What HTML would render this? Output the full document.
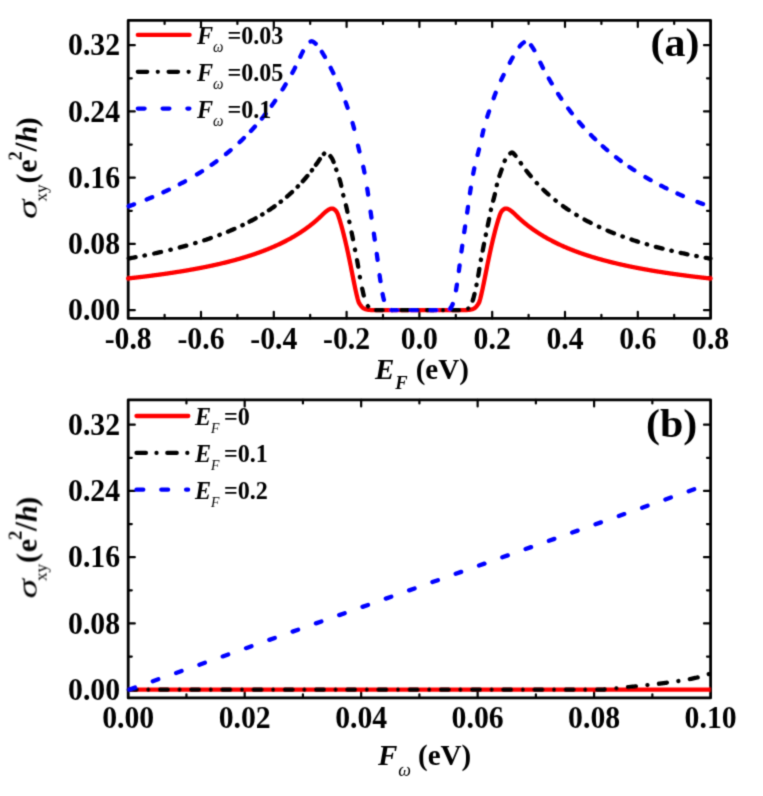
<!DOCTYPE html><html><head><meta charset="utf-8"><style>html,body{margin:0;padding:0;background:#fff;overflow:hidden}svg{display:block;will-change:transform}text{font-family:"Liberation Serif",serif;font-weight:bold;fill:#000}</style></head><body><svg width="763" height="796" viewBox="0 0 763 796"><defs><filter id="bl" x="0" y="0" width="763" height="796" filterUnits="userSpaceOnUse"><feConvolveMatrix order="3" kernelMatrix="0.02768 0.11101 0.02768 0.11101 0.44521 0.11101 0.02768 0.11101 0.02768" edgeMode="duplicate"/></filter></defs><rect width="763" height="796" fill="#fff"/><g filter="url(#bl)"><path d="M201.00 318.40 V311.80 M201.00 20.30 V26.90 M273.80 318.40 V311.80 M273.80 20.30 V26.90 M346.60 318.40 V311.80 M346.60 20.30 V26.90 M419.40 318.40 V311.80 M419.40 20.30 V26.90 M492.20 318.40 V311.80 M492.20 20.30 V26.90 M565.00 318.40 V311.80 M565.00 20.30 V26.90 M637.80 318.40 V311.80 M637.80 20.30 V26.90 M164.60 318.40 V314.80 M164.60 20.30 V23.90 M237.40 318.40 V314.80 M237.40 20.30 V23.90 M310.20 318.40 V314.80 M310.20 20.30 V23.90 M383.00 318.40 V314.80 M383.00 20.30 V23.90 M455.80 318.40 V314.80 M455.80 20.30 V23.90 M528.60 318.40 V314.80 M528.60 20.30 V23.90 M601.40 318.40 V314.80 M601.40 20.30 V23.90 M674.20 318.40 V314.80 M674.20 20.30 V23.90 M128.20 310.20 H134.80 M710.60 310.20 H704.00 M128.20 243.95 H134.80 M710.60 243.95 H704.00 M128.20 177.70 H134.80 M710.60 177.70 H704.00 M128.20 111.46 H134.80 M710.60 111.46 H704.00 M128.20 45.21 H134.80 M710.60 45.21 H704.00 M128.20 277.08 H131.80 M710.60 277.08 H707.00 M128.20 210.83 H131.80 M710.60 210.83 H707.00 M128.20 144.58 H131.80 M710.60 144.58 H707.00 M128.20 78.33 H131.80 M710.60 78.33 H707.00" stroke="#000" stroke-width="2.2" stroke-linecap="round" fill="none"/><rect x="128.20" y="20.30" width="582.40" height="298.10" fill="none" stroke="#000" stroke-width="2.8" stroke-linejoin="round"/><path d="M244.68 697.90 V691.30 M244.68 399.80 V406.40 M361.16 697.90 V691.30 M361.16 399.80 V406.40 M477.64 697.90 V691.30 M477.64 399.80 V406.40 M594.12 697.90 V691.30 M594.12 399.80 V406.40 M186.44 697.90 V694.30 M186.44 399.80 V403.40 M302.92 697.90 V694.30 M302.92 399.80 V403.40 M419.40 697.90 V694.30 M419.40 399.80 V403.40 M535.88 697.90 V694.30 M535.88 399.80 V403.40 M652.36 697.90 V694.30 M652.36 399.80 V403.40 M128.20 689.70 H134.80 M710.60 689.70 H704.00 M128.20 623.45 H134.80 M710.60 623.45 H704.00 M128.20 557.20 H134.80 M710.60 557.20 H704.00 M128.20 490.96 H134.80 M710.60 490.96 H704.00 M128.20 424.71 H134.80 M710.60 424.71 H704.00 M128.20 656.58 H131.80 M710.60 656.58 H707.00 M128.20 590.33 H131.80 M710.60 590.33 H707.00 M128.20 524.08 H131.80 M710.60 524.08 H707.00 M128.20 457.83 H131.80 M710.60 457.83 H707.00" stroke="#000" stroke-width="2.2" stroke-linecap="round" fill="none"/><rect x="128.20" y="399.80" width="582.40" height="298.10" fill="none" stroke="#000" stroke-width="2.8" stroke-linejoin="round"/><g fill="none" stroke-width="4.3" stroke-linejoin="round"><path d="M128.20 278.42 L128.70 278.37 L129.20 278.31 L129.70 278.26 L130.20 278.20 L130.70 278.15 L131.20 278.09 L131.70 278.04 L132.20 277.98 L132.70 277.92 L133.20 277.87 L133.70 277.81 L134.20 277.75 L134.70 277.70 L135.20 277.64 L135.70 277.58 L136.20 277.52 L136.70 277.47 L137.20 277.41 L137.70 277.35 L138.20 277.29 L138.70 277.23 L139.20 277.17 L139.70 277.12 L140.20 277.06 L140.70 277.00 L141.20 276.94 L141.70 276.88 L142.20 276.82 L142.70 276.76 L143.20 276.70 L143.70 276.64 L144.20 276.57 L144.70 276.51 L145.20 276.45 L145.70 276.39 L146.20 276.33 L146.70 276.27 L147.20 276.20 L147.70 276.14 L148.20 276.08 L148.70 276.02 L149.20 275.95 L149.70 275.89 L150.20 275.82 L150.70 275.76 L151.20 275.70 L151.70 275.63 L152.20 275.57 L152.70 275.50 L153.20 275.44 L153.70 275.37 L154.20 275.31 L154.70 275.24 L155.20 275.17 L155.70 275.11 L156.20 275.04 L156.70 274.97 L157.20 274.91 L157.70 274.84 L158.20 274.77 L158.70 274.70 L159.20 274.64 L159.70 274.57 L160.20 274.50 L160.70 274.43 L161.20 274.36 L161.70 274.29 L162.20 274.22 L162.70 274.15 L163.20 274.08 L163.70 274.01 L164.20 273.94 L164.70 273.87 L165.20 273.80 L165.70 273.72 L166.20 273.65 L166.70 273.58 L167.20 273.51 L167.70 273.43 L168.20 273.36 L168.70 273.29 L169.20 273.21 L169.70 273.14 L170.20 273.07 L170.70 272.99 L171.20 272.92 L171.70 272.84 L172.20 272.77 L172.70 272.69 L173.20 272.61 L173.70 272.54 L174.20 272.46 L174.70 272.38 L175.20 272.31 L175.70 272.23 L176.20 272.15 L176.70 272.07 L177.20 271.99 L177.70 271.91 L178.20 271.83 L178.70 271.75 L179.20 271.67 L179.70 271.59 L180.20 271.51 L180.70 271.43 L181.20 271.35 L181.70 271.27 L182.20 271.19 L182.70 271.10 L183.20 271.02 L183.70 270.94 L184.20 270.86 L184.70 270.77 L185.20 270.69 L185.70 270.60 L186.20 270.52 L186.70 270.43 L187.20 270.35 L187.70 270.26 L188.20 270.17 L188.70 270.09 L189.20 270.00 L189.70 269.91 L190.20 269.83 L190.70 269.74 L191.20 269.65 L191.70 269.56 L192.20 269.47 L192.70 269.38 L193.20 269.29 L193.70 269.20 L194.20 269.11 L194.70 269.02 L195.20 268.93 L195.70 268.83 L196.20 268.74 L196.70 268.65 L197.20 268.55 L197.70 268.46 L198.20 268.37 L198.70 268.27 L199.20 268.18 L199.70 268.08 L200.20 267.98 L200.70 267.89 L201.20 267.79 L201.70 267.69 L202.20 267.59 L202.70 267.50 L203.20 267.40 L203.70 267.30 L204.20 267.20 L204.70 267.10 L205.20 267.00 L205.70 266.90 L206.20 266.80 L206.70 266.69 L207.20 266.59 L207.70 266.49 L208.20 266.38 L208.70 266.28 L209.20 266.18 L209.70 266.07 L210.20 265.97 L210.70 265.86 L211.20 265.75 L211.70 265.65 L212.20 265.54 L212.70 265.43 L213.20 265.32 L213.70 265.21 L214.20 265.10 L214.70 264.99 L215.20 264.88 L215.70 264.77 L216.20 264.66 L216.70 264.55 L217.20 264.43 L217.70 264.32 L218.20 264.21 L218.70 264.09 L219.20 263.98 L219.70 263.86 L220.20 263.74 L220.70 263.63 L221.20 263.51 L221.70 263.39 L222.20 263.27 L222.70 263.15 L223.20 263.03 L223.70 262.91 L224.20 262.79 L224.70 262.67 L225.20 262.55 L225.70 262.43 L226.20 262.30 L226.70 262.18 L227.20 262.05 L227.70 261.93 L228.20 261.80 L228.70 261.67 L229.20 261.55 L229.70 261.42 L230.20 261.29 L230.70 261.16 L231.20 261.03 L231.70 260.90 L232.20 260.77 L232.70 260.63 L233.20 260.50 L233.70 260.37 L234.20 260.23 L234.70 260.10 L235.20 259.96 L235.70 259.83 L236.20 259.69 L236.70 259.55 L237.20 259.41 L237.70 259.27 L238.20 259.13 L238.70 258.99 L239.20 258.85 L239.70 258.70 L240.20 258.56 L240.70 258.42 L241.20 258.27 L241.70 258.12 L242.20 257.98 L242.70 257.83 L243.20 257.68 L243.70 257.53 L244.20 257.38 L244.70 257.23 L245.20 257.08 L245.70 256.93 L246.20 256.77 L246.70 256.62 L247.20 256.46 L247.70 256.30 L248.20 256.15 L248.70 255.99 L249.20 255.83 L249.70 255.67 L250.20 255.51 L250.70 255.35 L251.20 255.18 L251.70 255.02 L252.20 254.85 L252.70 254.69 L253.20 254.52 L253.70 254.35 L254.20 254.18 L254.70 254.01 L255.20 253.84 L255.70 253.67 L256.20 253.50 L256.70 253.32 L257.20 253.15 L257.70 252.97 L258.20 252.79 L258.70 252.62 L259.20 252.44 L259.70 252.25 L260.20 252.07 L260.70 251.89 L261.20 251.71 L261.70 251.52 L262.20 251.33 L262.70 251.15 L263.20 250.96 L263.70 250.77 L264.20 250.57 L264.70 250.38 L265.20 250.19 L265.70 249.99 L266.20 249.80 L266.70 249.60 L267.20 249.40 L267.70 249.20 L268.20 249.00 L268.70 248.79 L269.20 248.59 L269.70 248.38 L270.20 248.18 L270.70 247.97 L271.20 247.76 L271.70 247.55 L272.20 247.33 L272.70 247.12 L273.20 246.90 L273.70 246.69 L274.20 246.47 L274.70 246.25 L275.20 246.03 L275.70 245.80 L276.20 245.58 L276.70 245.35 L277.20 245.12 L277.70 244.89 L278.20 244.66 L278.70 244.43 L279.20 244.20 L279.70 243.96 L280.20 243.72 L280.70 243.48 L281.20 243.24 L281.70 243.00 L282.20 242.75 L282.70 242.51 L283.20 242.26 L283.70 242.01 L284.20 241.75 L284.70 241.50 L285.20 241.24 L285.70 240.99 L286.20 240.73 L286.70 240.46 L287.20 240.20 L287.70 239.94 L288.20 239.67 L288.70 239.40 L289.20 239.13 L289.70 238.85 L290.20 238.58 L290.70 238.30 L291.20 238.02 L291.70 237.73 L292.20 237.45 L292.70 237.16 L293.20 236.87 L293.70 236.58 L294.20 236.29 L294.70 235.99 L295.20 235.69 L295.70 235.39 L296.20 235.09 L296.70 234.78 L297.20 234.47 L297.70 234.16 L298.20 233.85 L298.70 233.53 L299.20 233.21 L299.70 232.89 L300.20 232.57 L300.70 232.24 L301.20 231.91 L301.70 231.58 L302.20 231.24 L302.70 230.90 L303.20 230.56 L303.70 230.22 L304.20 229.87 L304.70 229.52 L305.20 229.17 L305.70 228.81 L306.20 228.45 L306.70 228.09 L307.20 227.72 L307.70 227.35 L308.20 226.98 L308.70 226.61 L309.20 226.23 L309.70 225.84 L310.20 225.46 L310.70 225.07 L311.20 224.67 L311.70 224.28 L312.20 223.88 L312.70 223.47 L313.20 223.06 L313.70 222.65 L314.20 222.24 L314.70 221.82 L315.20 221.39 L315.70 220.96 L316.20 220.53 L316.70 220.09 L317.20 219.65 L317.70 219.21 L318.20 218.76 L318.70 218.30 L319.20 217.85 L319.70 217.38 L320.20 216.92 L320.70 216.44 L321.20 215.97 L321.70 215.48 L322.20 215.00 L322.70 214.50 L323.20 214.01 L323.70 213.50 L324.20 213.04 L324.70 212.61 L325.20 212.20 L325.70 211.80 L326.20 211.40 L326.70 211.01 L327.20 210.63 L327.70 210.25 L328.20 209.91 L328.70 209.61 L329.20 209.35 L329.70 209.12 L330.20 208.92 L330.70 208.76 L331.20 208.62 L331.70 208.54 L332.20 208.54 L332.70 208.64 L333.20 208.81 L333.70 209.05 L334.20 209.36 L334.70 209.72 L335.20 210.13 L335.70 210.60 L336.20 211.22 L336.70 211.99 L337.20 212.89 L337.70 213.95 L338.20 215.28 L338.70 216.80 L339.20 218.39 L339.70 219.96 L340.20 221.59 L340.70 223.28 L341.20 225.02 L341.70 226.80 L342.20 228.63 L342.70 230.50 L343.20 232.42 L343.70 234.40 L344.20 236.42 L344.70 238.48 L345.20 240.58 L345.70 242.71 L346.20 244.87 L346.70 247.06 L347.20 249.31 L347.70 251.59 L348.20 253.91 L348.70 256.25 L349.20 258.63 L349.70 261.02 L350.20 263.45 L350.70 265.93 L351.20 268.46 L351.70 271.00 L352.20 273.53 L352.70 276.03 L353.20 278.48 L353.70 280.96 L354.20 283.46 L354.70 285.93 L355.20 288.34 L355.70 290.64 L356.20 292.80 L356.70 294.91 L357.20 297.02 L357.70 299.02 L358.20 300.78 L358.70 302.18 L359.20 303.20 L359.70 304.05 L360.20 304.77 L360.70 305.43 L361.20 306.05 L361.70 306.65 L362.20 307.21 L362.70 307.69 L363.20 308.07 L363.70 308.38 L364.20 308.66 L364.70 308.91 L365.20 309.10 L365.70 309.26 L366.20 309.39 L366.70 309.50 L367.20 309.61 L367.70 309.69 L368.20 309.76 L368.70 309.82 L369.20 309.87 L369.70 309.93 L370.20 309.98 L370.70 310.02 L371.20 310.07 L371.70 310.11 L372.20 310.14 L372.70 310.17 L373.20 310.19 L373.70 310.20 L374.20 310.20 L374.70 310.20 L375.20 310.20 L375.70 310.20 L376.20 310.20 L376.70 310.20 L377.20 310.20 L377.70 310.20 L378.20 310.20 L378.70 310.20 L379.20 310.20 L379.70 310.20 L380.20 310.20 L380.70 310.20 L381.20 310.20 L381.70 310.20 L382.20 310.20 L382.70 310.20 L383.20 310.20 L383.70 310.20 L384.20 310.20 L384.70 310.20 L385.20 310.20 L385.70 310.20 L386.20 310.20 L386.70 310.20 L387.20 310.20 L387.70 310.20 L388.20 310.20 L388.70 310.20 L389.20 310.20 L389.70 310.20 L390.20 310.20 L390.70 310.20 L391.20 310.20 L391.70 310.20 L392.20 310.20 L392.70 310.20 L393.20 310.20 L393.70 310.20 L394.20 310.20 L394.70 310.20 L395.20 310.20 L395.70 310.20 L396.20 310.20 L396.70 310.20 L397.20 310.20 L397.70 310.20 L398.20 310.20 L398.70 310.20 L399.20 310.20 L399.70 310.20 L400.20 310.20 L400.70 310.20 L401.20 310.20 L401.70 310.20 L402.20 310.20 L402.70 310.20 L403.20 310.20 L403.70 310.20 L404.20 310.20 L404.70 310.20 L405.20 310.20 L405.70 310.20 L406.20 310.20 L406.70 310.20 L407.20 310.20 L407.70 310.20 L408.20 310.20 L408.70 310.20 L409.20 310.20 L409.70 310.20 L410.20 310.20 L410.70 310.20 L411.20 310.20 L411.70 310.20 L412.20 310.20 L412.70 310.20 L413.20 310.20 L413.70 310.20 L414.20 310.20 L414.70 310.20 L415.20 310.20 L415.70 310.20 L416.20 310.20 L416.70 310.20 L417.20 310.20 L417.70 310.20 L418.20 310.20 L418.70 310.20 L419.20 310.20 L419.20 310.20 L419.70 310.20 L420.20 310.20 L420.70 310.20 L421.20 310.20 L421.70 310.20 L422.20 310.20 L422.70 310.20 L423.20 310.20 L423.70 310.20 L424.20 310.20 L424.70 310.20 L425.20 310.20 L425.70 310.20 L426.20 310.20 L426.70 310.20 L427.20 310.20 L427.70 310.20 L428.20 310.20 L428.70 310.20 L429.20 310.20 L429.70 310.20 L430.20 310.20 L430.70 310.20 L431.20 310.20 L431.70 310.20 L432.20 310.20 L432.70 310.20 L433.20 310.20 L433.70 310.20 L434.20 310.20 L434.70 310.20 L435.20 310.20 L435.70 310.20 L436.20 310.20 L436.70 310.20 L437.20 310.20 L437.70 310.20 L438.20 310.20 L438.70 310.20 L439.20 310.20 L439.70 310.20 L440.20 310.20 L440.70 310.20 L441.20 310.20 L441.70 310.20 L442.20 310.20 L442.70 310.20 L443.20 310.20 L443.70 310.20 L444.20 310.20 L444.70 310.20 L445.20 310.20 L445.70 310.20 L446.20 310.20 L446.70 310.20 L447.20 310.20 L447.70 310.20 L448.20 310.20 L448.70 310.20 L449.20 310.20 L449.70 310.20 L450.20 310.20 L450.70 310.20 L451.20 310.20 L451.70 310.20 L452.20 310.20 L452.70 310.20 L453.20 310.20 L453.70 310.20 L454.20 310.20 L454.70 310.20 L455.20 310.20 L455.70 310.20 L456.20 310.20 L456.70 310.20 L457.20 310.20 L457.70 310.20 L458.20 310.20 L458.70 310.20 L459.20 310.20 L459.70 310.20 L460.20 310.20 L460.70 310.20 L461.20 310.20 L461.70 310.20 L462.20 310.20 L462.70 310.20 L463.20 310.20 L463.70 310.20 L464.20 310.20 L464.70 310.19 L465.20 310.17 L465.70 310.14 L466.20 310.11 L466.70 310.07 L467.20 310.02 L467.70 309.98 L468.20 309.93 L468.70 309.87 L469.20 309.82 L469.70 309.76 L470.20 309.69 L470.70 309.61 L471.20 309.50 L471.70 309.39 L472.20 309.26 L472.70 309.10 L473.20 308.91 L473.70 308.66 L474.20 308.38 L474.70 308.07 L475.20 307.69 L475.70 307.21 L476.20 306.65 L476.70 306.05 L477.20 305.43 L477.70 304.77 L478.20 304.05 L478.70 303.20 L479.20 302.18 L479.70 300.78 L480.20 299.02 L480.70 297.02 L481.20 294.91 L481.70 292.80 L482.20 290.64 L482.70 288.34 L483.20 285.93 L483.70 283.46 L484.20 280.96 L484.70 278.48 L485.20 276.03 L485.70 273.53 L486.20 271.00 L486.70 268.46 L487.20 265.93 L487.70 263.45 L488.20 261.02 L488.70 258.63 L489.20 256.25 L489.70 253.91 L490.20 251.59 L490.70 249.31 L491.20 247.06 L491.70 244.87 L492.20 242.71 L492.70 240.58 L493.20 238.48 L493.70 236.42 L494.20 234.40 L494.70 232.42 L495.20 230.50 L495.70 228.63 L496.20 226.80 L496.70 225.02 L497.20 223.28 L497.70 221.59 L498.20 219.96 L498.70 218.39 L499.20 216.80 L499.70 215.28 L500.20 213.95 L500.70 212.89 L501.20 211.99 L501.70 211.22 L502.20 210.60 L502.70 210.13 L503.20 209.72 L503.70 209.36 L504.20 209.05 L504.70 208.81 L505.20 208.64 L505.70 208.54 L506.20 208.54 L506.70 208.62 L507.20 208.76 L507.70 208.92 L508.20 209.12 L508.70 209.35 L509.20 209.61 L509.70 209.91 L510.20 210.25 L510.70 210.63 L511.20 211.01 L511.70 211.40 L512.20 211.80 L512.70 212.20 L513.20 212.61 L513.70 213.04 L514.20 213.50 L514.70 214.01 L515.20 214.50 L515.70 215.00 L516.20 215.48 L516.70 215.97 L517.20 216.44 L517.70 216.92 L518.20 217.38 L518.70 217.85 L519.20 218.30 L519.70 218.76 L520.20 219.21 L520.70 219.65 L521.20 220.09 L521.70 220.53 L522.20 220.96 L522.70 221.39 L523.20 221.82 L523.70 222.24 L524.20 222.65 L524.70 223.06 L525.20 223.47 L525.70 223.88 L526.20 224.28 L526.70 224.67 L527.20 225.07 L527.70 225.46 L528.20 225.84 L528.70 226.23 L529.20 226.61 L529.70 226.98 L530.20 227.35 L530.70 227.72 L531.20 228.09 L531.70 228.45 L532.20 228.81 L532.70 229.17 L533.20 229.52 L533.70 229.87 L534.20 230.22 L534.70 230.56 L535.20 230.90 L535.70 231.24 L536.20 231.58 L536.70 231.91 L537.20 232.24 L537.70 232.57 L538.20 232.89 L538.70 233.21 L539.20 233.53 L539.70 233.85 L540.20 234.16 L540.70 234.47 L541.20 234.78 L541.70 235.09 L542.20 235.39 L542.70 235.69 L543.20 235.99 L543.70 236.29 L544.20 236.58 L544.70 236.87 L545.20 237.16 L545.70 237.45 L546.20 237.73 L546.70 238.02 L547.20 238.30 L547.70 238.58 L548.20 238.85 L548.70 239.13 L549.20 239.40 L549.70 239.67 L550.20 239.94 L550.70 240.20 L551.20 240.46 L551.70 240.73 L552.20 240.99 L552.70 241.24 L553.20 241.50 L553.70 241.75 L554.20 242.01 L554.70 242.26 L555.20 242.51 L555.70 242.75 L556.20 243.00 L556.70 243.24 L557.20 243.48 L557.70 243.72 L558.20 243.96 L558.70 244.20 L559.20 244.43 L559.70 244.66 L560.20 244.89 L560.70 245.12 L561.20 245.35 L561.70 245.58 L562.20 245.80 L562.70 246.03 L563.20 246.25 L563.70 246.47 L564.20 246.69 L564.70 246.90 L565.20 247.12 L565.70 247.33 L566.20 247.55 L566.70 247.76 L567.20 247.97 L567.70 248.18 L568.20 248.38 L568.70 248.59 L569.20 248.79 L569.70 249.00 L570.20 249.20 L570.70 249.40 L571.20 249.60 L571.70 249.80 L572.20 249.99 L572.70 250.19 L573.20 250.38 L573.70 250.57 L574.20 250.77 L574.70 250.96 L575.20 251.15 L575.70 251.33 L576.20 251.52 L576.70 251.71 L577.20 251.89 L577.70 252.07 L578.20 252.25 L578.70 252.44 L579.20 252.62 L579.70 252.79 L580.20 252.97 L580.70 253.15 L581.20 253.32 L581.70 253.50 L582.20 253.67 L582.70 253.84 L583.20 254.01 L583.70 254.18 L584.20 254.35 L584.70 254.52 L585.20 254.69 L585.70 254.85 L586.20 255.02 L586.70 255.18 L587.20 255.35 L587.70 255.51 L588.20 255.67 L588.70 255.83 L589.20 255.99 L589.70 256.15 L590.20 256.30 L590.70 256.46 L591.20 256.62 L591.70 256.77 L592.20 256.93 L592.70 257.08 L593.20 257.23 L593.70 257.38 L594.20 257.53 L594.70 257.68 L595.20 257.83 L595.70 257.98 L596.20 258.12 L596.70 258.27 L597.20 258.42 L597.70 258.56 L598.20 258.70 L598.70 258.85 L599.20 258.99 L599.70 259.13 L600.20 259.27 L600.70 259.41 L601.20 259.55 L601.70 259.69 L602.20 259.83 L602.70 259.96 L603.20 260.10 L603.70 260.23 L604.20 260.37 L604.70 260.50 L605.20 260.63 L605.70 260.77 L606.20 260.90 L606.70 261.03 L607.20 261.16 L607.70 261.29 L608.20 261.42 L608.70 261.55 L609.20 261.67 L609.70 261.80 L610.20 261.93 L610.70 262.05 L611.20 262.18 L611.70 262.30 L612.20 262.43 L612.70 262.55 L613.20 262.67 L613.70 262.79 L614.20 262.91 L614.70 263.03 L615.20 263.15 L615.70 263.27 L616.20 263.39 L616.70 263.51 L617.20 263.63 L617.70 263.74 L618.20 263.86 L618.70 263.98 L619.20 264.09 L619.70 264.21 L620.20 264.32 L620.70 264.43 L621.20 264.55 L621.70 264.66 L622.20 264.77 L622.70 264.88 L623.20 264.99 L623.70 265.10 L624.20 265.21 L624.70 265.32 L625.20 265.43 L625.70 265.54 L626.20 265.65 L626.70 265.75 L627.20 265.86 L627.70 265.97 L628.20 266.07 L628.70 266.18 L629.20 266.28 L629.70 266.38 L630.20 266.49 L630.70 266.59 L631.20 266.69 L631.70 266.80 L632.20 266.90 L632.70 267.00 L633.20 267.10 L633.70 267.20 L634.20 267.30 L634.70 267.40 L635.20 267.50 L635.70 267.59 L636.20 267.69 L636.70 267.79 L637.20 267.89 L637.70 267.98 L638.20 268.08 L638.70 268.18 L639.20 268.27 L639.70 268.37 L640.20 268.46 L640.70 268.55 L641.20 268.65 L641.70 268.74 L642.20 268.83 L642.70 268.93 L643.20 269.02 L643.70 269.11 L644.20 269.20 L644.70 269.29 L645.20 269.38 L645.70 269.47 L646.20 269.56 L646.70 269.65 L647.20 269.74 L647.70 269.83 L648.20 269.91 L648.70 270.00 L649.20 270.09 L649.70 270.17 L650.20 270.26 L650.70 270.35 L651.20 270.43 L651.70 270.52 L652.20 270.60 L652.70 270.69 L653.20 270.77 L653.70 270.86 L654.20 270.94 L654.70 271.02 L655.20 271.10 L655.70 271.19 L656.20 271.27 L656.70 271.35 L657.20 271.43 L657.70 271.51 L658.20 271.59 L658.70 271.67 L659.20 271.75 L659.70 271.83 L660.20 271.91 L660.70 271.99 L661.20 272.07 L661.70 272.15 L662.20 272.23 L662.70 272.31 L663.20 272.38 L663.70 272.46 L664.20 272.54 L664.70 272.61 L665.20 272.69 L665.70 272.77 L666.20 272.84 L666.70 272.92 L667.20 272.99 L667.70 273.07 L668.20 273.14 L668.70 273.21 L669.20 273.29 L669.70 273.36 L670.20 273.43 L670.70 273.51 L671.20 273.58 L671.70 273.65 L672.20 273.72 L672.70 273.80 L673.20 273.87 L673.70 273.94 L674.20 274.01 L674.70 274.08 L675.20 274.15 L675.70 274.22 L676.20 274.29 L676.70 274.36 L677.20 274.43 L677.70 274.50 L678.20 274.57 L678.70 274.64 L679.20 274.70 L679.70 274.77 L680.20 274.84 L680.70 274.91 L681.20 274.97 L681.70 275.04 L682.20 275.11 L682.70 275.17 L683.20 275.24 L683.70 275.31 L684.20 275.37 L684.70 275.44 L685.20 275.50 L685.70 275.57 L686.20 275.63 L686.70 275.70 L687.20 275.76 L687.70 275.82 L688.20 275.89 L688.70 275.95 L689.20 276.02 L689.70 276.08 L690.20 276.14 L690.70 276.20 L691.20 276.27 L691.70 276.33 L692.20 276.39 L692.70 276.45 L693.20 276.51 L693.70 276.57 L694.20 276.64 L694.70 276.70 L695.20 276.76 L695.70 276.82 L696.20 276.88 L696.70 276.94 L697.20 277.00 L697.70 277.06 L698.20 277.12 L698.70 277.17 L699.20 277.23 L699.70 277.29 L700.20 277.35 L700.70 277.41 L701.20 277.47 L701.70 277.52 L702.20 277.58 L702.70 277.64 L703.20 277.70 L703.70 277.75 L704.20 277.81 L704.70 277.87 L705.20 277.92 L705.70 277.98 L706.20 278.04 L706.70 278.09 L707.20 278.15 L707.70 278.20 L708.20 278.26 L708.70 278.31 L709.20 278.37 L709.70 278.42 L710.60 278.42" stroke="#ff0000" stroke-linecap="round"/><path d="M128.69 258.46 L129.68 258.28 L130.66 258.11 L131.64 257.93 L132.63 257.75 L133.61 257.57 L134.60 257.39 L135.58 257.20 L135.58 257.20 M154.21 253.48 L155.19 253.27 L156.16 253.06 L157.14 252.85 L158.12 252.63 L159.10 252.42 L160.07 252.20 L161.05 251.98 L161.05 251.98 M179.75 247.44 L180.72 247.18 L181.69 246.93 L182.65 246.67 L183.62 246.41 L184.58 246.14 L185.55 245.88 L186.27 245.68 M204.23 240.30 L205.18 239.99 L206.13 239.67 L207.08 239.36 L208.03 239.04 L208.97 238.72 L209.92 238.40 L210.87 238.07 L210.87 238.07 M227.94 231.64 L228.87 231.26 L229.79 230.87 L230.71 230.49 L231.63 230.09 L232.55 229.70 L233.47 229.30 L234.38 228.90 L234.38 228.90 M249.49 221.67 L250.38 221.21 L251.26 220.74 L252.14 220.27 L253.02 219.80 L253.90 219.32 L254.78 218.83 L255.65 218.35 L255.65 218.35 M268.88 210.27 L269.71 209.72 L270.54 209.16 L271.36 208.59 L272.19 208.03 L273.01 207.45 L273.82 206.88 L274.64 206.30 L274.64 206.30 M287.02 196.58 L287.78 195.92 L288.53 195.26 L289.28 194.60 L290.03 193.94 L290.77 193.27 L291.51 192.59 L292.06 192.08 M302.77 181.23 L303.44 180.49 L304.10 179.74 L304.76 178.99 L305.42 178.24 L306.07 177.48 L306.72 176.72 L307.36 175.95 L307.36 175.95 M315.91 164.86 L316.48 164.05 L317.06 163.23 L317.63 162.41 L318.19 161.58 L318.75 160.75 L319.31 159.92 L319.86 159.09 L319.86 159.09 M330.35 156.12 L330.97 156.90 L331.55 157.72 L332.07 158.58 L332.53 159.46 L332.95 160.37 L333.34 161.29 L333.61 161.99 M339.47 179.01 L339.76 179.97 L340.03 180.93 L340.30 181.89 L340.56 182.86 L340.80 183.83 L341.03 184.80 L341.25 185.78 L341.25 185.78 M345.93 205.21 L346.18 206.18 L346.41 207.16 L346.64 208.13 L346.85 209.11 L347.06 210.08 L347.26 211.06 L347.41 211.80 M351.59 232.38 L351.80 233.36 L352.00 234.33 L352.20 235.31 L352.40 236.29 L352.59 237.28 L352.79 238.26 L352.98 239.24 L352.98 239.24 M357.05 260.09 L357.24 261.08 L357.42 262.06 L357.60 263.04 L357.77 264.03 L357.94 265.01 L358.10 266.00 L358.22 266.74 M362.20 288.63 L362.41 289.61 L362.63 290.58 L362.85 291.56 L363.07 292.53 L363.29 293.51 L363.51 294.48 L363.74 295.46 L363.74 295.46 M375.75 310.20 L376.75 310.20 L377.75 310.20 L378.75 310.20 L379.75 310.20 L380.75 310.20 L381.75 310.20 L382.75 310.20 L382.75 310.20 M401.25 310.20 L402.25 310.20 L403.25 310.20 L404.25 310.20 L405.25 310.20 L406.25 310.20 L407.25 310.20 L408.25 310.20 L408.25 310.20 M426.75 310.20 L427.75 310.20 L428.75 310.20 L429.75 310.20 L430.75 310.20 L431.75 310.20 L432.75 310.20 L433.75 310.20 L433.75 310.20 M452.25 310.20 L453.25 310.20 L454.25 310.20 L455.25 310.20 L456.25 310.20 L457.25 310.20 L458.25 310.20 L459.25 310.20 L459.25 310.20 M472.67 300.64 L472.99 299.69 L473.30 298.74 L473.57 297.78 L473.82 296.81 L474.06 295.84 L474.30 294.87 L474.52 293.89 L474.52 293.89 M478.23 275.77 L478.39 274.78 L478.56 273.80 L478.72 272.81 L478.88 271.82 L479.03 270.83 L479.19 269.85 L479.34 268.86 L479.34 268.86 M482.71 250.67 L482.90 249.69 L483.09 248.71 L483.28 247.72 L483.47 246.74 L483.66 245.76 L483.85 244.78 L484.04 243.80 L484.04 243.80 M487.73 225.67 L487.94 224.69 L488.14 223.71 L488.34 222.73 L488.55 221.75 L488.75 220.77 L488.94 219.79 L489.13 218.81 L489.13 218.81 M493.16 200.76 L493.43 199.80 L493.69 198.83 L493.95 197.87 L494.20 196.90 L494.45 195.93 L494.69 194.96 L494.91 193.99 L494.91 193.99 M499.39 176.05 L499.71 175.11 L500.04 174.16 L500.38 173.22 L500.71 172.28 L501.05 171.34 L501.38 170.39 L501.72 169.45 L501.72 169.45 M510.31 153.43 L511.07 152.79 L511.99 152.44 L512.89 152.80 L513.61 153.50 L514.28 154.23 L514.94 154.99 L515.57 155.77 L515.57 155.77 M526.38 170.77 L526.99 171.56 L527.61 172.35 L528.23 173.13 L528.86 173.91 L529.49 174.68 L530.13 175.46 L530.77 176.22 L530.77 176.22 M543.38 189.75 L544.10 190.44 L544.82 191.13 L545.55 191.81 L546.29 192.49 L547.02 193.17 L547.77 193.84 L548.51 194.51 L548.51 194.51 M562.94 206.07 L563.76 206.65 L564.57 207.23 L565.39 207.80 L566.21 208.37 L567.04 208.94 L567.87 209.50 L568.70 210.06 L568.70 210.06 M584.53 219.61 L585.41 220.08 L586.29 220.56 L587.18 221.03 L588.06 221.49 L588.95 221.95 L589.84 222.41 L590.73 222.87 L590.73 222.87 M607.52 230.62 L608.44 231.01 L609.36 231.39 L610.29 231.77 L611.22 232.15 L612.14 232.52 L613.07 232.90 L614.00 233.26 L614.00 233.26 M631.40 239.55 L632.35 239.86 L633.30 240.17 L634.25 240.48 L635.20 240.79 L636.15 241.09 L637.11 241.39 L638.06 241.69 L638.06 241.69 M655.83 246.82 L656.80 247.08 L657.77 247.34 L658.74 247.59 L659.70 247.84 L660.67 248.09 L661.64 248.34 L662.61 248.58 L662.61 248.58 M680.62 252.82 L681.60 253.03 L682.57 253.24 L683.55 253.45 L684.53 253.66 L685.51 253.87 L686.49 254.07 L687.46 254.28 L687.46 254.28 M705.62 257.81 L706.61 257.99 L707.59 258.17 L708.57 258.35 L709.56 258.52 L710.56 258.55 L710.56 258.55" stroke="#000000" stroke-linecap="round"/><path d="M144.42 255.50 L144.91 255.40 M170.30 249.82 L170.78 249.70 M195.16 243.12 L195.64 242.98 M219.33 235.02 L219.80 234.84 M242.34 225.25 L242.79 225.04 M262.12 214.56 L262.55 214.30 M280.64 201.80 L281.03 201.49 M297.62 186.69 L297.97 186.33 M311.74 170.49 L312.04 170.09 M323.86 153.97 L324.19 153.60 M336.22 169.55 L336.39 170.02 M343.24 195.06 L343.36 195.55 M349.32 221.61 L349.43 222.10 M354.97 249.55 L355.07 250.04 M359.87 276.86 L359.96 277.35 M367.83 306.14 L368.12 306.55 M391.75 310.20 L392.25 310.20 M417.25 310.20 L417.75 310.20 M442.75 310.20 L443.25 310.20 M467.98 308.81 L468.33 308.45 M476.45 285.10 L476.55 284.61 M480.87 259.99 L480.96 259.50 M485.77 234.96 L485.87 234.47 M490.86 209.98 L490.97 209.49 M496.78 185.18 L496.90 184.70 M504.69 160.96 L504.89 160.50 M520.76 163.11 L521.05 163.52 M536.72 182.97 L537.06 183.34 M555.38 200.32 L555.77 200.63 M576.29 214.88 L576.72 215.14 M598.83 226.79 L599.28 227.00 M622.42 236.44 L622.89 236.61 M646.68 244.28 L647.16 244.42 M671.35 250.71 L671.84 250.83 M696.29 256.05 L696.78 256.15" stroke="#000000" stroke-linecap="round"/><path d="M128.67 206.31 L129.61 205.97 L130.55 205.64 L131.49 205.29 L132.43 204.95 L133.37 204.61 L134.07 204.35 M146.66 199.46 L147.58 199.08 L148.51 198.70 L149.43 198.32 L150.36 197.94 L151.28 197.55 L152.20 197.16 L152.20 197.16 M163.41 192.22 L164.31 191.80 L165.22 191.37 L166.13 190.95 L167.03 190.52 L167.93 190.09 L168.84 189.66 L168.84 189.66 M179.78 184.15 L180.66 183.69 L181.55 183.22 L182.43 182.75 L183.31 182.27 L184.19 181.79 L185.06 181.31 L185.06 181.31 M196.96 174.42 L197.81 173.90 L198.66 173.37 L199.51 172.84 L200.36 172.31 L201.20 171.78 L202.05 171.24 L202.05 171.24 M211.61 164.85 L212.42 164.27 L213.24 163.70 L214.05 163.12 L214.87 162.53 L215.68 161.94 L216.48 161.35 L216.48 161.35 M225.99 154.04 L226.77 153.41 L227.54 152.77 L228.32 152.14 L229.08 151.50 L229.85 150.86 L230.62 150.21 L230.62 150.21 M239.58 142.24 L240.31 141.55 L241.04 140.87 L241.76 140.18 L242.48 139.48 L243.20 138.79 L243.91 138.09 L243.91 138.09 M250.91 130.94 L251.59 130.21 L252.27 129.48 L252.95 128.74 L253.63 128.01 L254.30 127.27 L254.96 126.52 L254.96 126.52 M261.80 118.55 L262.44 117.78 L263.07 117.00 L263.69 116.23 L264.32 115.44 L264.94 114.66 L265.56 113.87 L265.56 113.87 M271.72 105.68 L272.30 104.87 L272.88 104.06 L273.46 103.24 L274.04 102.42 L274.61 101.60 L275.18 100.78 L275.18 100.78 M282.56 89.48 L283.09 88.63 L283.61 87.78 L284.13 86.92 L284.64 86.07 L285.16 85.21 L285.67 84.35 L285.67 84.35 M292.32 72.89 L292.81 72.02 L293.29 71.14 L293.76 70.26 L294.22 69.37 L294.68 68.48 L295.13 67.59 L295.13 67.59 M300.32 56.77 L300.74 55.86 L301.16 54.95 L301.58 54.05 L302.01 53.14 L302.46 52.25 L302.94 51.37 L302.94 51.37 M310.54 41.58 L311.48 41.26 L312.45 41.41 L313.34 41.86 L314.16 42.44 L314.93 43.07 L315.72 43.69 L315.72 43.69 M321.84 51.86 L322.36 52.71 L322.88 53.56 L323.41 54.41 L323.93 55.27 L324.45 56.12 L324.95 56.99 L324.95 56.99 M330.65 67.83 L331.10 68.72 L331.55 69.61 L332.00 70.51 L332.45 71.40 L332.91 72.29 L333.36 73.18 L333.36 73.18 M338.58 83.99 L338.98 84.90 L339.38 85.82 L339.77 86.74 L340.16 87.66 L340.54 88.59 L340.92 89.51 L340.92 89.51 M345.64 102.16 L345.97 103.10 L346.30 104.05 L346.63 104.99 L346.96 105.93 L347.29 106.88 L347.62 107.82 L347.62 107.82 M352.57 123.04 L352.84 124.00 L353.11 124.96 L353.38 125.92 L353.64 126.89 L353.89 127.86 L354.14 128.83 L354.14 128.83 M358.00 145.64 L358.23 146.61 L358.46 147.58 L358.69 148.56 L358.93 149.53 L359.17 150.50 L359.41 151.47 L359.41 151.47 M363.27 166.74 L363.48 167.72 L363.69 168.69 L363.89 169.67 L364.09 170.65 L364.28 171.63 L364.47 172.62 L364.47 172.62 M367.23 188.63 L367.39 189.62 L367.54 190.61 L367.70 191.59 L367.85 192.58 L368.00 193.57 L368.15 194.56 L368.15 194.56 M370.58 211.64 L370.73 212.63 L370.87 213.62 L371.02 214.60 L371.16 215.59 L371.31 216.58 L371.46 217.57 L371.46 217.57 M373.88 233.64 L374.02 234.63 L374.17 235.62 L374.32 236.61 L374.46 237.60 L374.60 238.59 L374.75 239.58 L374.75 239.58 M376.79 253.93 L376.93 254.92 L377.06 255.91 L377.20 256.90 L377.33 257.90 L377.46 258.89 L377.60 259.88 L377.60 259.88 M379.59 275.25 L379.73 276.24 L379.87 277.23 L380.02 278.22 L380.17 279.21 L380.32 280.20 L380.47 281.18 L380.47 281.18 M382.58 294.01 L382.78 294.99 L382.99 295.97 L383.21 296.94 L383.45 297.91 L383.69 298.89 L383.94 299.85 L383.94 299.85 M391.44 310.03 L392.44 310.13 L393.43 310.19 L394.43 310.20 L395.43 310.20 L396.43 310.20 L397.18 310.20 M410.93 310.20 L411.93 310.20 L412.93 310.20 L413.93 310.20 L414.93 310.20 L415.93 310.20 L416.68 310.20 M430.68 310.20 L431.68 310.20 L432.68 310.20 L433.68 310.20 L434.68 310.20 L435.68 310.20 L436.43 310.20 M449.91 308.91 L450.55 308.14 L451.11 307.31 L451.63 306.46 L452.11 305.58 L452.50 304.66 L452.76 303.96 M455.98 290.35 L456.15 289.37 L456.31 288.38 L456.47 287.39 L456.63 286.40 L456.78 285.42 L456.90 284.67 M458.87 271.07 L459.00 270.08 L459.13 269.08 L459.26 268.09 L459.38 267.10 L459.51 266.11 L459.60 265.36 M461.45 251.49 L461.59 250.50 L461.73 249.51 L461.87 248.52 L462.01 247.53 L462.15 246.54 L462.26 245.79 M464.24 232.19 L464.39 231.20 L464.53 230.21 L464.68 229.22 L464.83 228.23 L464.98 227.24 L465.09 226.50 M467.17 212.66 L467.31 211.67 L467.45 210.68 L467.59 209.69 L467.73 208.70 L467.87 207.71 L467.98 206.96 M469.93 193.35 L470.08 192.36 L470.24 191.38 L470.39 190.39 L470.55 189.40 L470.71 188.41 L470.83 187.67 M473.19 173.87 L473.37 172.89 L473.56 171.91 L473.75 170.93 L473.95 169.95 L474.15 168.97 L474.31 168.23 M477.60 154.89 L477.85 153.92 L478.11 152.95 L478.36 151.98 L478.60 151.01 L478.84 150.04 L479.02 149.31 M482.14 135.67 L482.37 134.69 L482.59 133.72 L482.82 132.74 L483.05 131.77 L483.28 130.80 L483.46 130.07 M487.22 116.85 L487.53 115.90 L487.84 114.95 L488.16 114.00 L488.48 113.05 L488.80 112.10 L489.04 111.39 M493.69 98.19 L494.03 97.25 L494.37 96.31 L494.72 95.37 L495.07 94.43 L495.43 93.50 L495.69 92.80 M501.09 80.16 L501.53 79.26 L501.96 78.36 L502.40 77.46 L502.85 76.56 L503.29 75.67 L503.63 75.00 M509.84 62.73 L510.30 61.84 L510.77 60.96 L511.24 60.07 L511.71 59.20 L512.20 58.32 L512.69 57.45 L512.69 57.45 M519.62 46.46 L520.24 45.67 L520.89 44.92 L521.59 44.20 L522.35 43.56 L523.14 42.93 L523.92 42.31 L523.92 42.31 M531.03 45.25 L531.61 46.06 L532.16 46.90 L532.71 47.74 L533.25 48.57 L533.79 49.41 L534.32 50.27 L534.32 50.27 M540.33 62.63 L540.76 63.53 L541.20 64.43 L541.64 65.32 L542.08 66.22 L542.53 67.12 L542.98 68.01 L542.98 68.01 M548.83 78.48 L549.33 79.35 L549.83 80.22 L550.32 81.08 L550.82 81.95 L551.33 82.81 L551.71 83.46 M558.13 93.89 L558.67 94.73 L559.22 95.57 L559.77 96.40 L560.32 97.24 L560.88 98.07 L561.30 98.69 M568.23 108.48 L568.83 109.28 L569.43 110.08 L570.03 110.88 L570.64 111.68 L571.25 112.47 L571.86 113.26 L571.86 113.26 M578.97 121.98 L579.62 122.74 L580.27 123.50 L580.93 124.25 L581.59 125.00 L582.25 125.75 L582.91 126.50 L582.91 126.50 M590.96 135.06 L591.66 135.78 L592.37 136.48 L593.07 137.19 L593.79 137.89 L594.50 138.59 L595.22 139.29 L595.22 139.29 M602.73 146.26 L603.48 146.92 L604.23 147.58 L604.98 148.24 L605.74 148.89 L606.50 149.54 L607.26 150.19 L607.26 150.19 M616.00 157.27 L616.79 157.88 L617.59 158.49 L618.38 159.10 L619.18 159.70 L619.98 160.30 L620.79 160.89 L620.79 160.89 M629.36 166.96 L630.18 167.52 L631.02 168.08 L631.85 168.63 L632.68 169.18 L633.52 169.73 L634.36 170.28 L634.36 170.28 M645.42 177.10 L646.28 177.60 L647.15 178.11 L648.02 178.60 L648.88 179.10 L649.75 179.59 L650.63 180.08 L650.63 180.08 M661.20 185.75 L662.09 186.21 L662.98 186.66 L663.88 187.11 L664.77 187.56 L665.67 188.00 L666.56 188.44 L666.56 188.44 M677.42 193.55 L678.33 193.96 L679.25 194.37 L680.16 194.77 L681.08 195.17 L681.99 195.57 L682.91 195.97 L682.91 195.97 M697.49 201.94 L698.42 202.30 L699.35 202.66 L700.29 203.02 L701.22 203.37 L702.16 203.72 L703.09 204.07 L703.09 204.07" stroke="#0000ff" stroke-linecap="round"/><path d="M128.20 689.70 L710.60 689.70" stroke="#ff0000" stroke-linecap="butt"/><path d="M128.20 689.70 L129.20 689.70 L130.20 689.70 L131.20 689.70 L132.20 689.70 L133.20 689.70 L134.20 689.70 L135.20 689.70 L136.20 689.70 L137.20 689.70 L138.20 689.70 L139.20 689.70 L140.20 689.70 L141.20 689.70 L142.20 689.70 L143.20 689.70 L144.20 689.70 L145.20 689.70 L146.20 689.70 L147.20 689.70 L148.20 689.70 L149.20 689.70 L150.20 689.70 L151.20 689.70 L152.20 689.70 L153.20 689.70 L154.20 689.70 L155.20 689.70 L156.20 689.70 L157.20 689.70 L158.20 689.70 L159.20 689.70 L160.20 689.70 L161.20 689.70 L162.20 689.70 L163.20 689.70 L164.20 689.70 L165.20 689.70 L166.20 689.70 L167.20 689.70 L168.20 689.70 L169.20 689.70 L170.20 689.70 L171.20 689.70 L172.20 689.70 L173.20 689.70 L174.20 689.70 L175.20 689.70 L176.20 689.70 L177.20 689.70 L178.20 689.70 L179.20 689.70 L180.20 689.70 L181.20 689.70 L182.20 689.70 L183.20 689.70 L184.20 689.70 L185.20 689.70 L186.20 689.70 L187.20 689.70 L188.20 689.70 L189.20 689.70 L190.20 689.70 L191.20 689.70 L192.20 689.70 L193.20 689.70 L194.20 689.70 L195.20 689.70 L196.20 689.70 L197.20 689.70 L198.20 689.70 L199.20 689.70 L200.20 689.70 L201.20 689.70 L202.20 689.70 L203.20 689.70 L204.20 689.70 L205.20 689.70 L206.20 689.70 L207.20 689.70 L208.20 689.70 L209.20 689.70 L210.20 689.70 L211.20 689.70 L212.20 689.70 L213.20 689.70 L214.20 689.70 L215.20 689.70 L216.20 689.70 L217.20 689.70 L218.20 689.70 L219.20 689.70 L220.20 689.70 L221.20 689.70 L222.20 689.70 L223.20 689.70 L224.20 689.70 L225.20 689.70 L226.20 689.70 L227.20 689.70 L228.20 689.70 L229.20 689.70 L230.20 689.70 L231.20 689.70 L232.20 689.70 L233.20 689.70 L234.20 689.70 L235.20 689.70 L236.20 689.70 L237.20 689.70 L238.20 689.70 L239.20 689.70 L240.20 689.70 L241.20 689.70 L242.20 689.70 L243.20 689.70 L244.20 689.70 L245.20 689.70 L246.20 689.70 L247.20 689.70 L248.20 689.70 L249.20 689.70 L250.20 689.70 L251.20 689.70 L252.20 689.70 L253.20 689.70 L254.20 689.70 L255.20 689.70 L256.20 689.70 L257.20 689.70 L258.20 689.70 L259.20 689.70 L260.20 689.70 L261.20 689.70 L262.20 689.70 L263.20 689.70 L264.20 689.70 L265.20 689.70 L266.20 689.70 L267.20 689.70 L268.20 689.70 L269.20 689.70 L270.20 689.70 L271.20 689.70 L272.20 689.70 L273.20 689.70 L274.20 689.70 L275.20 689.70 L276.20 689.70 L277.20 689.70 L278.20 689.70 L279.20 689.70 L280.20 689.70 L281.20 689.70 L282.20 689.70 L283.20 689.70 L284.20 689.70 L285.20 689.70 L286.20 689.70 L287.20 689.70 L288.20 689.70 L289.20 689.70 L290.20 689.70 L291.20 689.70 L292.20 689.70 L293.20 689.70 L294.20 689.70 L295.20 689.70 L296.20 689.70 L297.20 689.70 L298.20 689.70 L299.20 689.70 L300.20 689.70 L301.20 689.70 L302.20 689.70 L303.20 689.70 L304.20 689.70 L305.20 689.70 L306.20 689.70 L307.20 689.70 L308.20 689.70 L309.20 689.70 L310.20 689.70 L311.20 689.70 L312.20 689.70 L313.20 689.70 L314.20 689.70 L315.20 689.70 L316.20 689.70 L317.20 689.70 L318.20 689.70 L319.20 689.70 L320.20 689.70 L321.20 689.70 L322.20 689.70 L323.20 689.70 L324.20 689.70 L325.20 689.70 L326.20 689.70 L327.20 689.70 L328.20 689.70 L329.20 689.70 L330.20 689.70 L331.20 689.70 L332.20 689.70 L333.20 689.70 L334.20 689.70 L335.20 689.70 L336.20 689.70 L337.20 689.70 L338.20 689.70 L339.20 689.70 L340.20 689.70 L341.20 689.70 L342.20 689.70 L343.20 689.70 L344.20 689.70 L345.20 689.70 L346.20 689.70 L347.20 689.70 L348.20 689.70 L349.20 689.70 L350.20 689.70 L351.20 689.70 L352.20 689.70 L353.20 689.70 L354.20 689.70 L355.20 689.70 L356.20 689.70 L357.20 689.70 L358.20 689.70 L359.20 689.70 L360.20 689.70 L361.20 689.70 L362.20 689.70 L363.20 689.70 L364.20 689.70 L365.20 689.70 L366.20 689.70 L367.20 689.70 L368.20 689.70 L369.20 689.70 L370.20 689.70 L371.20 689.70 L372.20 689.70 L373.20 689.70 L374.20 689.70 L375.20 689.70 L376.20 689.70 L377.20 689.70 L378.20 689.70 L379.20 689.70 L380.20 689.70 L381.20 689.70 L382.20 689.70 L383.20 689.70 L384.20 689.70 L385.20 689.70 L386.20 689.70 L387.20 689.70 L388.20 689.70 L389.20 689.70 L390.20 689.70 L391.20 689.70 L392.20 689.70 L393.20 689.70 L394.20 689.70 L395.20 689.70 L396.20 689.70 L397.20 689.70 L398.20 689.70 L399.20 689.70 L400.20 689.70 L401.20 689.70 L402.20 689.70 L403.20 689.70 L404.20 689.70 L405.20 689.70 L406.20 689.70 L407.20 689.70 L408.20 689.70 L409.20 689.70 L410.20 689.70 L411.20 689.70 L412.20 689.70 L413.20 689.70 L414.20 689.70 L415.20 689.70 L416.20 689.70 L417.20 689.70 L418.20 689.70 L419.20 689.70 L420.20 689.70 L421.20 689.70 L422.20 689.70 L423.20 689.70 L424.20 689.70 L425.20 689.70 L426.20 689.70 L427.20 689.70 L428.20 689.70 L429.20 689.70 L430.20 689.70 L431.20 689.70 L432.20 689.70 L433.20 689.70 L434.20 689.70 L435.20 689.70 L436.20 689.70 L437.20 689.70 L438.20 689.70 L439.20 689.70 L440.20 689.70 L441.20 689.70 L442.20 689.70 L443.20 689.70 L444.20 689.70 L445.20 689.70 L446.20 689.70 L447.20 689.70 L448.20 689.70 L449.20 689.70 L450.20 689.70 L451.20 689.70 L452.20 689.70 L453.20 689.70 L454.20 689.70 L455.20 689.70 L456.20 689.70 L457.20 689.70 L458.20 689.70 L459.20 689.70 L460.20 689.70 L461.20 689.70 L462.20 689.70 L463.20 689.70 L464.20 689.70 L465.20 689.70 L466.20 689.70 L467.20 689.70 L468.20 689.70 L469.20 689.70 L470.20 689.70 L471.20 689.70 L472.20 689.70 L473.20 689.70 L474.20 689.70 L475.20 689.70 L476.20 689.70 L477.20 689.70 L478.20 689.70 L479.20 689.70 L480.20 689.70 L481.20 689.70 L482.20 689.70 L483.20 689.70 L484.20 689.70 L485.20 689.70 L486.20 689.70 L487.20 689.70 L488.20 689.70 L489.20 689.70 L490.20 689.70 L491.20 689.70 L492.20 689.70 L493.20 689.70 L494.20 689.70 L495.20 689.70 L496.20 689.70 L497.20 689.70 L498.20 689.70 L499.20 689.70 L500.20 689.70 L501.20 689.70 L502.20 689.70 L503.20 689.70 L504.20 689.70 L505.20 689.70 L506.20 689.70 L507.20 689.70 L508.20 689.70 L509.20 689.70 L510.20 689.70 L511.20 689.70 L512.20 689.70 L513.20 689.70 L514.20 689.70 L515.20 689.70 L516.20 689.70 L517.20 689.70 L518.20 689.70 L519.20 689.70 L520.20 689.70 L521.20 689.70 L522.20 689.70 L523.20 689.70 L524.20 689.70 L525.20 689.70 L526.20 689.70 L527.20 689.70 L528.20 689.70 L529.20 689.70 L530.20 689.70 L531.20 689.70 L532.20 689.70 L533.20 689.70 L534.20 689.70 L535.20 689.70 L536.20 689.70 L537.20 689.70 L538.20 689.70 L539.20 689.70 L540.20 689.70 L541.20 689.70 L542.20 689.70 L543.20 689.70 L544.20 689.70 L545.20 689.70 L546.20 689.70 L547.20 689.70 L548.20 689.70 L549.20 689.70 L550.20 689.70 L551.20 689.70 L552.20 689.70 L553.20 689.70 L554.20 689.70 L555.20 689.70 L556.20 689.70 L557.20 689.70 L558.20 689.70 L559.20 689.70 L560.20 689.70 L561.20 689.70 L562.20 689.70 L563.20 689.70 L564.20 689.70 L565.20 689.70 L566.20 689.70 L567.20 689.70 L568.20 689.70 L569.20 689.70 L570.20 689.70 L571.20 689.70 L572.20 689.70 L573.20 689.70 L574.20 689.70 L575.20 689.70 L576.20 689.70 L577.20 689.70 L578.20 689.70 L579.20 689.70 L580.20 689.70 L581.20 689.70 L582.20 689.70 L583.20 689.70 L584.20 689.70 L585.20 689.70 L586.20 689.70 L587.20 689.70 L588.20 689.70 L589.20 689.70 L590.20 689.70 L591.20 689.70 L592.20 689.70 L593.20 689.69 L594.20 689.68 L595.20 689.67 L596.20 689.66 L597.20 689.65 L598.20 689.64 L599.20 689.62 L600.20 689.60 L601.20 689.58 L602.20 689.56 L603.20 689.54 L604.20 689.52 L605.20 689.49 L606.20 689.45 L607.20 689.39 L608.20 689.30 L609.20 689.20 L610.20 689.09 L611.20 688.96 L612.20 688.84 L613.20 688.71 L614.20 688.58 L615.20 688.46 L616.20 688.34 L617.20 688.24 L618.20 688.14 L619.20 688.03 L620.20 687.93 L621.20 687.83 L622.20 687.73 L623.20 687.63 L624.20 687.53 L625.20 687.43 L626.20 687.34 L627.20 687.24 L628.20 687.14 L629.20 687.04 L630.20 686.94 L631.20 686.84 L632.20 686.74 L633.20 686.64 L634.20 686.54 L635.20 686.44 L636.20 686.34 L637.20 686.23 L638.20 686.13 L639.20 686.03 L640.20 685.92 L641.20 685.81 L642.20 685.71 L643.20 685.60 L644.20 685.49 L645.20 685.37 L646.20 685.26 L647.20 685.15 L648.20 685.03 L649.20 684.91 L650.20 684.80 L651.20 684.68 L652.20 684.56 L653.20 684.44 L654.20 684.32 L655.20 684.19 L656.20 684.07 L657.20 683.95 L658.20 683.82 L659.20 683.69 L660.20 683.57 L661.20 683.44 L662.20 683.31 L663.20 683.18 L664.20 683.04 L665.20 682.91 L666.20 682.77 L667.20 682.64 L668.20 682.50 L669.20 682.36 L670.20 682.22 L671.20 682.08 L672.20 681.93 L673.20 681.79 L674.20 681.64 L675.20 681.49 L676.20 681.34 L677.20 681.19 L678.20 681.03 L679.20 680.88 L680.20 680.72 L681.20 680.56 L682.20 680.40 L683.20 680.23 L684.20 680.07 L685.20 679.90 L686.20 679.73 L687.20 679.55 L688.20 679.37 L689.20 679.18 L690.20 678.99 L691.20 678.80 L692.20 678.60 L693.20 678.39 L694.20 678.18 L695.20 677.96 L696.20 677.73 L697.20 677.49 L698.20 677.24 L699.20 676.98 L700.20 676.71 L701.20 676.44 L702.20 676.15 L703.20 675.86 L704.20 675.56 L705.20 675.26 L706.20 674.95 L707.20 674.63 L708.20 674.30 L709.20 673.97 L710.20 673.64" stroke="#000000" stroke-dasharray="8 11.6 0.01 11.6" stroke-dashoffset="30.7" stroke-linecap="round"/><path d="M128.20 689.90 L710.60 483.50" stroke="#0000ff" stroke-dasharray="5.8 18.92" stroke-dashoffset="23.34" stroke-linecap="round"/></g><path d="M137.8 34.9 H189.6" stroke="#ff0000" stroke-width="4.3" stroke-linecap="round"/><path d="M137.8 71.8 H189.0" stroke="#000000" stroke-width="4.3" stroke-dasharray="9.4 10.6 0.01 10.8" stroke-linecap="round"/><path d="M137.8 108.6 H189.4" stroke="#0000ff" stroke-width="4.3" stroke-dasharray="6.8 18" stroke-linecap="round"/><path d="M136.5 416.0 H188.3" stroke="#ff0000" stroke-width="4.3" stroke-linecap="round"/><path d="M136.5 452.9 H187.7" stroke="#000000" stroke-width="4.3" stroke-dasharray="9.4 10.6 0.01 10.8" stroke-linecap="round"/><path d="M136.5 489.7 H188.1" stroke="#0000ff" stroke-width="4.3" stroke-dasharray="6.8 18" stroke-linecap="round"/><text transform="translate(120.10 320.40) scale(0.985 1.070)" font-size="30.20" text-anchor="end">0.00</text><text transform="translate(120.10 254.15) scale(0.985 1.070)" font-size="30.20" text-anchor="end">0.08</text><text transform="translate(120.10 187.90) scale(0.985 1.070)" font-size="30.20" text-anchor="end">0.16</text><text transform="translate(120.10 121.66) scale(0.985 1.070)" font-size="30.20" text-anchor="end">0.24</text><text transform="translate(120.10 55.41) scale(0.985 1.070)" font-size="30.20" text-anchor="end">0.32</text><text transform="translate(120.10 699.90) scale(0.985 1.070)" font-size="30.20" text-anchor="end">0.00</text><text transform="translate(120.10 633.65) scale(0.985 1.070)" font-size="30.20" text-anchor="end">0.08</text><text transform="translate(120.10 567.40) scale(0.985 1.070)" font-size="30.20" text-anchor="end">0.16</text><text transform="translate(120.10 501.16) scale(0.985 1.070)" font-size="30.20" text-anchor="end">0.24</text><text transform="translate(120.10 434.91) scale(0.985 1.070)" font-size="30.20" text-anchor="end">0.32</text><text transform="translate(128.20 348.60) scale(0.985 1.070)" font-size="30.20" text-anchor="middle">-0.8</text><text transform="translate(201.00 348.60) scale(0.985 1.070)" font-size="30.20" text-anchor="middle">-0.6</text><text transform="translate(273.80 348.60) scale(0.985 1.070)" font-size="30.20" text-anchor="middle">-0.4</text><text transform="translate(346.60 348.60) scale(0.985 1.070)" font-size="30.20" text-anchor="middle">-0.2</text><text transform="translate(419.40 348.60) scale(0.985 1.070)" font-size="30.20" text-anchor="middle">0.0</text><text transform="translate(492.20 348.60) scale(0.985 1.070)" font-size="30.20" text-anchor="middle">0.2</text><text transform="translate(565.00 348.60) scale(0.985 1.070)" font-size="30.20" text-anchor="middle">0.4</text><text transform="translate(637.80 348.60) scale(0.985 1.070)" font-size="30.20" text-anchor="middle">0.6</text><text transform="translate(710.60 348.60) scale(0.985 1.070)" font-size="30.20" text-anchor="middle">0.8</text><text transform="translate(128.20 728.10) scale(0.985 1.070)" font-size="30.20" text-anchor="middle">0.00</text><text transform="translate(244.68 728.10) scale(0.985 1.070)" font-size="30.20" text-anchor="middle">0.02</text><text transform="translate(361.16 728.10) scale(0.985 1.070)" font-size="30.20" text-anchor="middle">0.04</text><text transform="translate(477.64 728.10) scale(0.985 1.070)" font-size="30.20" text-anchor="middle">0.06</text><text transform="translate(594.12 728.10) scale(0.985 1.070)" font-size="30.20" text-anchor="middle">0.08</text><text transform="translate(710.60 728.10) scale(0.985 1.070)" font-size="30.20" text-anchor="middle">0.10</text><text transform="translate(650.50 56.10) scale(1.000 0.975)" font-size="42.00" text-anchor="start">(a)</text><text transform="translate(646.00 436.60) scale(1.000 0.960)" font-size="42.00" text-anchor="start">(b)</text><text transform="translate(197.00 43.60) scale(0.985 1.070)" font-size="24.50" text-anchor="start"><tspan font-style="italic">F</tspan><tspan font-size="15" font-style="italic" style="font-weight:normal" dy="8">ω</tspan><tspan dy="-8" dx="4">=0.03</tspan></text><text transform="translate(197.00 80.60) scale(0.985 1.070)" font-size="24.50" text-anchor="start"><tspan font-style="italic">F</tspan><tspan font-size="15" font-style="italic" style="font-weight:normal" dy="8">ω</tspan><tspan dy="-8" dx="4">=0.05</tspan></text><text transform="translate(197.00 117.60) scale(0.985 1.070)" font-size="24.50" text-anchor="start"><tspan font-style="italic">F</tspan><tspan font-size="15" font-style="italic" style="font-weight:normal" dy="8">ω</tspan><tspan dy="-8" dx="4">=0.1</tspan></text><text transform="translate(195.00 424.90) scale(0.985 1.070)" font-size="24.50" text-anchor="start"><tspan font-style="italic">E</tspan><tspan font-size="14" font-style="italic" style="font-weight:normal" dy="7.5">F</tspan><tspan dy="-7.5" dx="4.5">=0</tspan></text><text transform="translate(195.00 461.90) scale(0.985 1.070)" font-size="24.50" text-anchor="start"><tspan font-style="italic">E</tspan><tspan font-size="14" font-style="italic" style="font-weight:normal" dy="7.5">F</tspan><tspan dy="-7.5" dx="4.5">=0.1</tspan></text><text transform="translate(195.00 498.90) scale(0.985 1.070)" font-size="24.50" text-anchor="start"><tspan font-style="italic">E</tspan><tspan font-size="14" font-style="italic" style="font-weight:normal" dy="7.5">F</tspan><tspan dy="-7.5" dx="4.5">=0.2</tspan></text><text transform="translate(375.00 378.60) scale(1.000 1.000)" font-size="29.00" text-anchor="start"><tspan font-style="italic">E</tspan><tspan font-size="18.5" font-style="italic" dy="10.5" dx="1">F</tspan><tspan dy="-10.5" dx="8">(eV)</tspan></text><text transform="translate(378.00 765.30) scale(1.000 1.000)" font-size="29.00" text-anchor="start"><tspan font-style="italic">F</tspan><tspan font-size="18" font-style="italic" style="font-weight:normal" dy="11" dx="1">ω</tspan><tspan dy="-11" dx="7">(eV)</tspan></text><g transform="translate(36.6 219.0) rotate(-90)"><text transform="translate(0 0.4) scale(1.2 0.84)" font-size="33" font-style="italic" style="font-weight:normal">σ</text><text x="17.4" y="9.8" font-size="17.3" style="font-weight:normal">xy</text><text x="35.6" y="-0.5" font-size="30">(</text><text x="46.2" y="0" font-size="30">e</text><text x="58.4" y="-15.5" font-size="18.5">2</text><text x="67.4" y="0" font-size="32">/</text><text x="76.6" y="0" font-size="30" font-style="italic">h</text><text x="91.7" y="-0.5" font-size="30">)</text></g><g transform="translate(36.6 598.5) rotate(-90)"><text transform="translate(0 0.4) scale(1.2 0.84)" font-size="33" font-style="italic" style="font-weight:normal">σ</text><text x="17.4" y="9.8" font-size="17.3" style="font-weight:normal">xy</text><text x="35.6" y="-0.5" font-size="30">(</text><text x="46.2" y="0" font-size="30">e</text><text x="58.4" y="-15.5" font-size="18.5">2</text><text x="67.4" y="0" font-size="32">/</text><text x="76.6" y="0" font-size="30" font-style="italic">h</text><text x="91.7" y="-0.5" font-size="30">)</text></g></g></svg></body></html>
